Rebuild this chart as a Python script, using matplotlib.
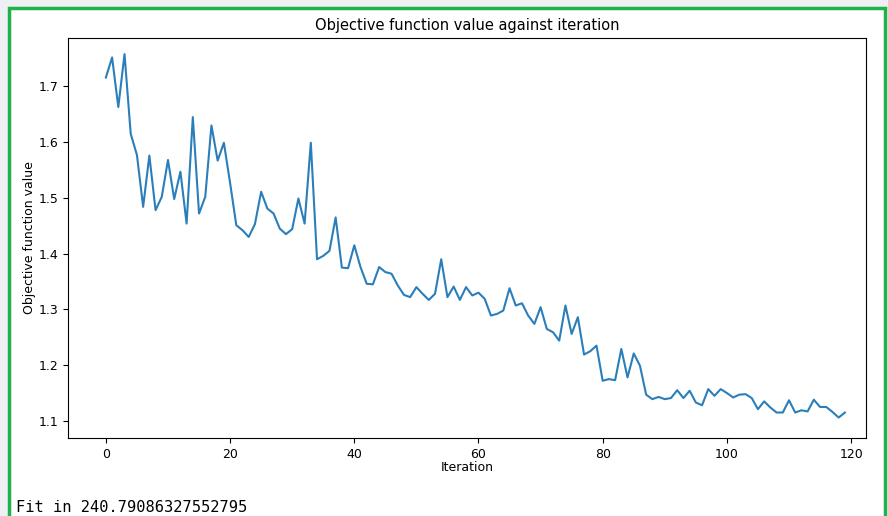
import matplotlib
matplotlib.use("Agg")
import matplotlib.pyplot as plt
from matplotlib.patches import Rectangle

values = [
    1.716, 1.752, 1.663, 1.758, 1.615, 1.577, 1.484, 1.576, 1.478, 1.502,
    1.568, 1.498, 1.547, 1.454, 1.645, 1.472, 1.502, 1.630, 1.567, 1.599,
    1.527, 1.451, 1.442, 1.430, 1.453, 1.511, 1.481, 1.472, 1.445, 1.435,
    1.444, 1.499, 1.454, 1.599, 1.390, 1.396, 1.405, 1.465, 1.375, 1.374,
    1.415, 1.376, 1.346, 1.345, 1.376, 1.367, 1.364, 1.343, 1.326, 1.322,
    1.340, 1.328, 1.317, 1.328, 1.390, 1.322, 1.341, 1.317, 1.340, 1.325,
    1.330, 1.319, 1.289, 1.292, 1.298, 1.338, 1.307, 1.311, 1.289, 1.274,
    1.304, 1.265, 1.259, 1.244, 1.307, 1.256, 1.286, 1.219, 1.225, 1.235,
    1.172, 1.175, 1.173, 1.229, 1.178, 1.221, 1.199, 1.147, 1.139, 1.143,
    1.139, 1.141, 1.155, 1.141, 1.154, 1.133, 1.128, 1.157, 1.145, 1.157,
    1.150, 1.142, 1.147, 1.148, 1.141, 1.121, 1.135, 1.124, 1.115, 1.115,
    1.137, 1.115, 1.119, 1.117, 1.138, 1.125, 1.125, 1.116, 1.106, 1.115,
]
iterations = list(range(len(values)))

title = "Objective function value against iteration"
xlabel = "Iteration"
ylabel = "Objective function value"
footer = "Fit in 240.79086327552795"

W, H = 888, 516
fig = plt.figure(figsize=(W / 100, H / 100), dpi=100, facecolor="#eef0f4")

# white panel with green border
fig.patches.append(Rectangle((9 / W, -0.05), (885 - 9) / W, 1.05 - 8 / H,
                             transform=fig.transFigure, facecolor="white",
                             edgecolor="#1fb24a", linewidth=2.5, zorder=-10))

ax = fig.add_axes([68 / W, 1 - 438 / H, (866 - 68) / W, (438 - 38) / H])
ax.set_zorder(1)
ax.plot(iterations, values, color="#2a7fba", linewidth=1.5)
ax.set_xlim(-6.1, 122.4)
ax.set_ylim(1.0693, 1.7869)
ax.set_title(title, fontsize=10.5)
ax.set_xlabel(xlabel, fontsize=9, labelpad=0.5)
ax.set_ylabel(ylabel, fontsize=9, labelpad=1.5)
ax.tick_params(labelsize=9)
ax.set_xticks([0, 20, 40, 60, 80, 100, 120])
ax.set_yticks([1.1, 1.2, 1.3, 1.4, 1.5, 1.6, 1.7])

fig.text(16 / W, 1 - 507 / H, footer, family="DejaVu Sans Mono", fontsize=11.1,
         va="center", ha="left", zorder=2)

fig.savefig("out.png", dpi=100, facecolor=fig.get_facecolor())
